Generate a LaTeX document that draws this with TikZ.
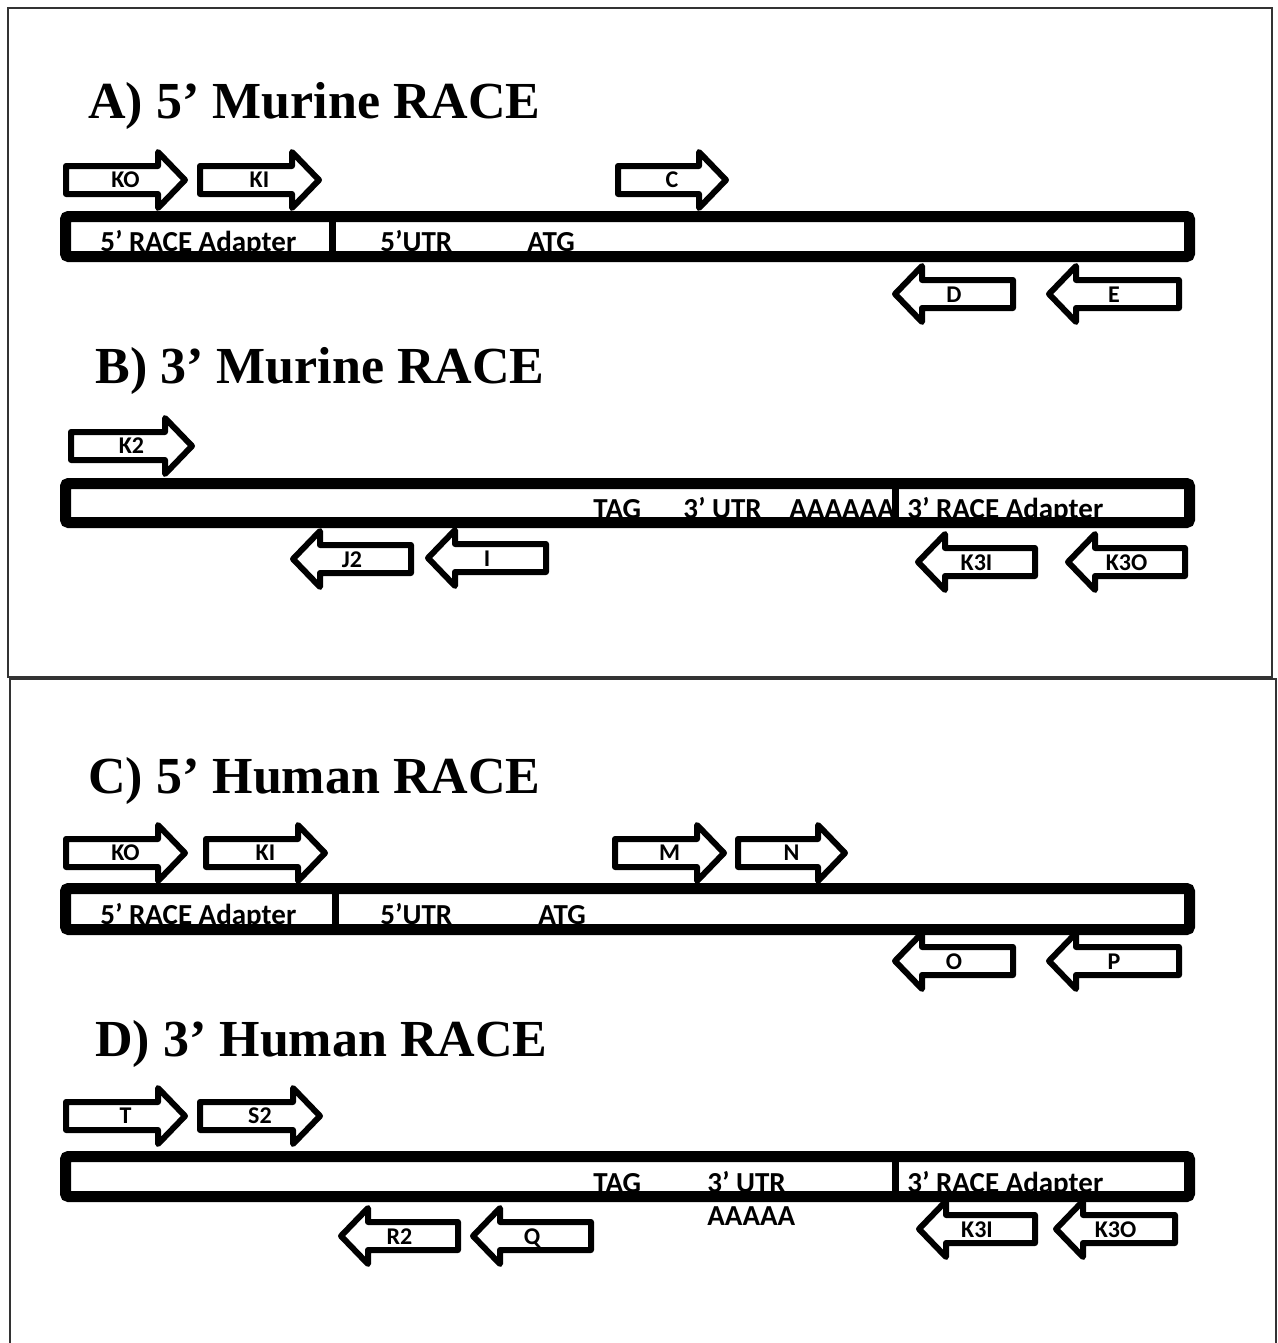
\documentclass[tikz,border=0pt]{standalone}
\usepackage{fontspec}
\setmainfont{Liberation Serif}
\setsansfont{Carlito}
\usepackage{tikz}
\tikzstyle{frame} = [line width=1pt, draw=black!80]
\tikzstyle{mrna} = [line width=5.5pt, rounded corners=1.5pt]
\tikzstyle{divider} = [line width=3.5pt]
\tikzstyle{primer} = [line width=3pt, line join=round]
\tikzstyle{plabel} = [anchor=base, inner sep=0pt, font=\sffamily\bfseries\fontsize{12}{14}\selectfont]
\tikzstyle{bartext} = [anchor=base west, inner sep=0pt, font=\sffamily\bfseries\fontsize{14.5}{17}\selectfont]
\tikzstyle{title} = [anchor=base west, inner sep=0pt, font=\rmfamily\bfseries\fontsize{26}{30}\selectfont]

% forward primer: name, tail x, tip x, centre y, label
\newcommand{\fwdprimer}[5]{%
  \draw[primer] ({#2+3},{#4-14}) -- ({#3-30},{#4-14}) -- ({#3-30},{#4-28})
    -- ({#3-3},#4) -- ({#3-30},{#4+28}) -- ({#3-30},{#4+14}) -- ({#2+3},{#4+14}) -- cycle;
  \node[plabel] (#1) at ({(#2+#3)/2},{#4+7}) {#5};
}
% reverse primer: name, tip x, tail x, centre y, label
\newcommand{\revprimer}[5]{%
  \draw[primer] ({#3-3},{#4-14}) -- ({#2+30},{#4-14}) -- ({#2+30},{#4-28})
    -- ({#2+3},#4) -- ({#2+30},{#4+28}) -- ({#2+30},{#4+14}) -- ({#3-3},{#4+14}) -- cycle;
  \node[plabel] (#1) at ({(#2+#3)/2},{#4+8}) {#5};
}

\begin{document}
\begin{tikzpicture}[x=0.5pt, y=-0.5pt]
        \useasboundingbox (0,0) rectangle (1278,1343);
        \fill[white] (0,0) rectangle (1278,1343);

        % frames
        \draw[frame] (8,8) rectangle (1272,677);
        \draw[frame] (10,1343) -- (10,679) -- (1276,679) -- (1276,1343);

        % A) 5' murine
        \node[title] (titleA) at (88,119) {A) 5’ Murine RACE};
        \fwdprimer{koA}{63}{188}{180}{KO}
        \fwdprimer{kiA}{197}{322}{180}{KI}
        \fwdprimer{c}{615}{729}{180}{C}
        \node[bartext] (adaptA) at (100,251) {5’ RACE Adapter};
        \node[bartext] (utrA) at (380,251) {5’UTR};
        \node[bartext] (atgA) at (527,251) {ATG};
        \draw[mrna] (65.5,216.5) rectangle (1189.5,256.5);
        \draw[divider] (332,211) -- (332,262);
        \revprimer{d}{892}{1016}{294}{D}
        \revprimer{e}{1046}{1182}{294}{E}

        % B) 3' murine
        \node[title] (titleB) at (95,383) {B) 3’ Murine RACE};
        \fwdprimer{k2}{68}{195}{446}{K2}
        \node[bartext] (tagB) at (593,518) {TAG};
        \node[bartext] (utrB) at (683,518) {3’ UTR};
        \node[bartext] (polyB) at (789,518) {AAAAAA};
        \node[bartext] (adaptB) at (907,518) {3’ RACE Adapter};
        \draw[mrna] (65.5,483.5) rectangle (1189.5,522.5);
        \draw[divider] (895,478) -- (895,528);
        \revprimer{j2}{290}{414}{559}{J2}
        \revprimer{i}{425}{549}{558}{I}
        \revprimer{k3iB}{915}{1038}{562}{K3I}
        \revprimer{k3oB}{1065}{1188}{562}{K3O}

        % C) 5' human
        \node[title] (titleC) at (88,793) {C) 5’ Human RACE};
        \fwdprimer{koC}{63}{188}{853}{KO}
        \fwdprimer{kiC}{203}{328}{853}{KI}
        \fwdprimer{m}{612}{727}{853}{M}
        \fwdprimer{n}{735}{848}{853}{N}
        \node[bartext] (adaptC) at (100,924) {5’ RACE Adapter};
        \node[bartext] (utrC) at (380,924) {5’UTR};
        \node[bartext] (atgC) at (538,924) {ATG};
        \draw[mrna] (65.5,888.5) rectangle (1189.5,929.5);
        \draw[divider] (335,883) -- (335,935);
        \revprimer{o}{892}{1016}{961}{O}
        \revprimer{p}{1046}{1182}{961}{P}

        % D) 3' human
        \node[title] (titleD) at (95,1056) {D) 3’ Human RACE};
        \fwdprimer{t}{63}{188}{1116}{T}
        \fwdprimer{s2}{197}{323}{1116}{S2}
        \node[bartext] (tagD) at (593,1192) {TAG};
        \node[bartext] (utrD) at (707,1192) {3’ UTR};
        \node[bartext] (polyD) at (707,1225) {AAAAA};
        \node[bartext] (adaptD) at (907,1192) {3’ RACE Adapter};
        \draw[mrna] (65.5,1156.5) rectangle (1189.5,1196.5);
        \draw[divider] (895,1151) -- (895,1202);
        \revprimer{r2}{338}{461}{1236}{R2}
        \revprimer{q}{470}{594}{1236}{Q}
        \revprimer{k3iD}{916}{1038}{1229}{K3I}
        \revprimer{k3oD}{1053}{1178}{1229}{K3O}

\end{tikzpicture}
\end{document}
